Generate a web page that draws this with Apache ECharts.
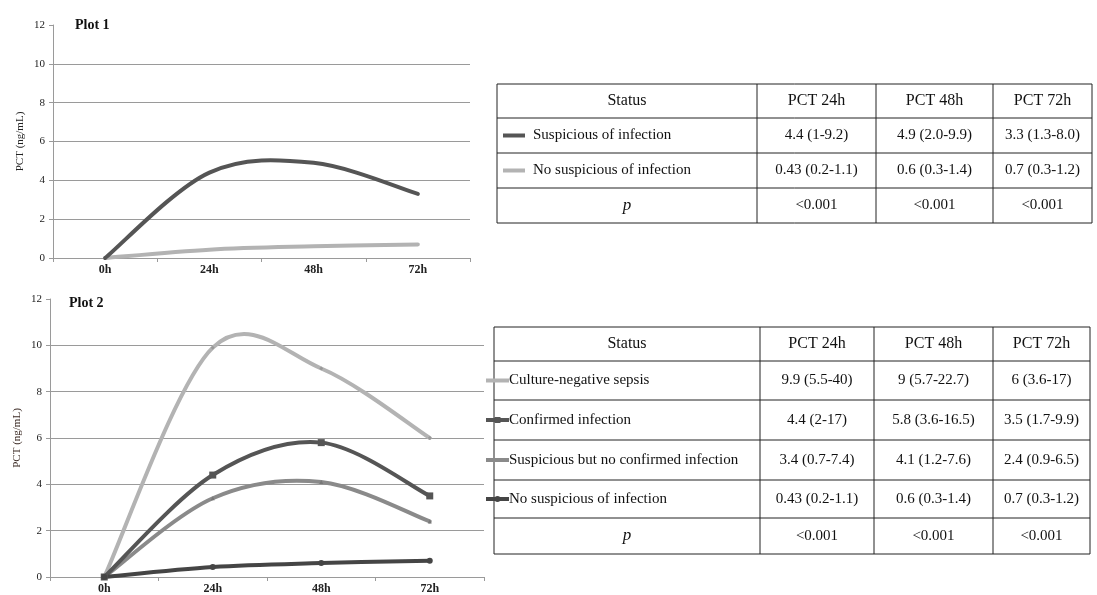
<!DOCTYPE html>
<html>
<head>
<meta charset="utf-8">
<script src="https://cdn.jsdelivr.net/npm/echarts@6/dist/echarts.min.js"></script>
<style>
  html, body { margin: 0; padding: 0; background: #fff; }
  #chart { width: 1097px; height: 595px; }
</style>
</head>
<body>
<div id="chart"></div>
<script>
// time points on the x axis
const hours = ['0h', '24h', '48h', '72h']
const yTicks = { min: 0, max: 12, interval: 2 }

// plot 1
const p1Suspicious = [0, 4.4, 4.9, 3.3]
const p1NoSuspicious = [0, 0.43, 0.6, 0.7]

// plot 2
const p2CultureNeg = [0, 9.9, 9, 6]
const p2Confirmed = [0, 4.4, 5.8, 3.5]
const p2SuspNoConfirmed = [0, 3.4, 4.1, 2.4]
const p2NoSuspicious = [0, 0.43, 0.6, 0.7]

// tables
const tableHeader = ['Status', 'PCT 24h', 'PCT 48h', 'PCT 72h']
const table1Rows = [
  ['Suspicious of infection', '4.4 (1-9.2)', '4.9 (2.0-9.9)', '3.3 (1.3-8.0)'],
  ['No suspicious of infection', '0.43 (0.2-1.1)', '0.6 (0.3-1.4)', '0.7 (0.3-1.2)'],
]
const table2Rows = [
  ['Culture-negative sepsis', '9.9 (5.5-40)', '9 (5.7-22.7)', '6 (3.6-17)'],
  ['Confirmed infection', '4.4 (2-17)', '5.8 (3.6-16.5)', '3.5 (1.7-9.9)'],
  ['Suspicious but no confirmed infection', '3.4 (0.7-7.4)', '4.1 (1.2-7.6)', '2.4 (0.9-6.5)'],
  ['No suspicious of infection', '0.43 (0.2-1.1)', '0.6 (0.3-1.4)', '0.7 (0.3-1.2)'],
]
const pRow = ['p', '<0.001', '<0.001', '<0.001']

const SERIF = "'Liberation Serif', 'Times New Roman', serif"
const C_DARK = '#555555'
const C_DARKEST = '#454545'
const C_MID = '#8a8a8a'
const C_LIGHT = '#b3b3b3'

function txt(text, x, y, font, align) {
  return {
    type: 'text',
    style: {
      text: text, x: x, y: y, font: font,
      align: align, textAlign: align,
      verticalAlign: 'middle', textVerticalAlign: 'middle',
      fill: '#111'
    },
    z: 10
  }
}

function hline(x1, x2, y, color, w) {
  return { type: 'line', shape: { x1: x1, y1: y, x2: x2, y2: y }, style: { stroke: color, lineWidth: w }, z: 9 }
}
function vline(x, y1, y2) {
  return { type: 'line', shape: { x1: x, y1: y1, x2: x, y2: y2 }, style: { stroke: '#222', lineWidth: 1 }, z: 9 }
}

// builds border lines and texts of one table
function makeTable(cols, rowsY, rows, textX, markers) {
  const els = []
  const left = cols[0], right = cols[cols.length - 1]
  rowsY.forEach(y => els.push(hline(left, right, y, '#222', 1)))
  cols.forEach(x => els.push(vline(x, rowsY[0], rowsY[rowsY.length - 1])))
  const allRows = [tableHeader].concat(rows).concat([pRow])
  allRows.forEach((row, r) => {
    const cy = (rowsY[r] + rowsY[r + 1]) / 2
    row.forEach((cell, c) => {
      const cx = (cols[c] + cols[c + 1]) / 2
      let font = '15px ' + SERIF
      if (r === 0) font = '16px ' + SERIF
      if (r === allRows.length - 1 && c === 0) font = 'italic 17px ' + SERIF
      if (c === 0 && r > 0 && r < allRows.length - 1) {
        els.push(txt(cell, textX, cy, font, 'left'))
      } else {
        els.push(txt(cell, cx, cy, font, 'center'))
      }
    })
  })
  markers.forEach((m, i) => {
    const cy = (rowsY[i + 1] + rowsY[i + 2]) / 2
    els.push(hline(m.x1, m.x2, cy, m.color, 4))
    if (m.symbol === 'rect') {
      els.push({ type: 'rect', shape: { x: (m.x1 + m.x2) / 2 - 3, y: cy - 3, width: 6, height: 6 }, style: { fill: m.color }, z: 11 })
    } else if (m.symbol === 'circle') {
      els.push({ type: 'circle', shape: { cx: (m.x1 + m.x2) / 2, cy: cy, r: 3 }, style: { fill: m.color }, z: 11 })
    }
  })
  return els
}

const table1 = makeTable(
  [497, 757, 876, 993, 1092],
  [84, 118, 153, 188, 223],
  table1Rows, 533,
  [
    { x1: 503, x2: 525, color: C_DARK },
    { x1: 503, x2: 525, color: C_LIGHT },
  ]
)
const table2 = makeTable(
  [494, 760, 874, 993, 1090],
  [327, 361, 400, 440, 480, 518, 554],
  table2Rows, 509,
  [
    { x1: 486, x2: 509, color: C_LIGHT },
    { x1: 486, x2: 509, color: C_DARK, symbol: 'rect' },
    { x1: 486, x2: 509, color: C_MID },
    { x1: 486, x2: 509, color: C_DARKEST, symbol: 'circle' },
  ]
)

function xAxisFor(gridIndex) {
  return {
    type: 'category',
    gridIndex: gridIndex,
    data: hours,
    boundaryGap: true,
    axisLine: { lineStyle: { color: '#9a9a9a', width: 1 } },
    axisTick: { show: true, length: 4, lineStyle: { color: '#9a9a9a' } },
    axisLabel: { fontFamily: SERIF, fontSize: 12, fontWeight: 'bold', color: '#222', margin: 6 }
  }
}
function yAxisFor(gridIndex, nameColor) {
  return {
    type: 'value',
    gridIndex: gridIndex,
    min: yTicks.min, max: yTicks.max, interval: yTicks.interval,
    name: 'PCT (ng/mL)',
    nameLocation: 'middle',
    nameGap: 27,
    nameTextStyle: { fontFamily: SERIF, fontSize: 11, color: nameColor },
    axisLine: { show: true, lineStyle: { color: '#9a9a9a', width: 1 } },
    axisTick: { show: true, length: 4, lineStyle: { color: '#9a9a9a' } },
    axisLabel: { fontFamily: SERIF, fontSize: 11, color: '#222', margin: 8 },
    splitLine: { show: true, showMaxLine: false, showMinLine: false, lineStyle: { color: '#9a9a9a', width: 1 } }
  }
}

// Excel-like smoothed curve (Catmull-Rom through the points, ends clamped)
function curveSeries(data, color, gi) {
  return {
    type: 'custom',
    xAxisIndex: gi, yAxisIndex: gi,
    data: data.map((v, i) => [i, v]),
    encode: { x: 0, y: 1 },
    z: 2,
    silent: true,
    renderItem: function (params, api) {
      if (params.dataIndex !== 0) return null
      const pts = data.map((v, i) => api.coord([i, v]))
      let d = 'M' + pts[0][0] + ' ' + pts[0][1]
      for (let i = 0; i < pts.length - 1; i++) {
        const p0 = pts[Math.max(i - 1, 0)]
        const p1 = pts[i]
        const p2 = pts[i + 1]
        const p3 = pts[Math.min(i + 2, pts.length - 1)]
        const c1x = p1[0] + (p2[0] - p0[0]) / 6
        const c1y = p1[1] + (p2[1] - p0[1]) / 6
        const c2x = p2[0] - (p3[0] - p1[0]) / 6
        const c2y = p2[1] - (p3[1] - p1[1]) / 6
        d += ' C' + c1x + ' ' + c1y + ' ' + c2x + ' ' + c2y + ' ' + p2[0] + ' ' + p2[1]
      }
      return {
        type: 'path',
        shape: { pathData: d },
        style: { stroke: color, lineWidth: 4, fill: null, lineCap: 'round', lineJoin: 'round' }
      }
    }
  }
}

function markerSeries(data, color, gi, symbol, size) {
  return {
    type: 'scatter',
    xAxisIndex: gi, yAxisIndex: gi,
    data: data,
    symbol: symbol,
    symbolSize: size,
    itemStyle: { color: color, opacity: 1 },
    z: 5,
    silent: true
  }
}

const chart = echarts.init(document.getElementById('chart'))
chart.setOption({
  backgroundColor: '#fff',
  animation: false,
  title: [
    { text: 'Plot 1', left: 70, top: 13, textStyle: { fontFamily: SERIF, fontSize: 14, fontWeight: 'bold', color: '#111' } },
    { text: 'Plot 2', left: 64, top: 291, textStyle: { fontFamily: SERIF, fontSize: 14, fontWeight: 'bold', color: '#111' } }
  ],
  grid: [
    { left: 53, top: 25, width: 417, height: 233 },
    { left: 50, top: 299, width: 434, height: 278 }
  ],
  xAxis: [xAxisFor(0), xAxisFor(1)],
  yAxis: [yAxisFor(0, '#222'), yAxisFor(1, '#3b2a24')],
  series: [
    curveSeries(p1NoSuspicious, C_LIGHT, 0),
    curveSeries(p1Suspicious, C_DARK, 0),
    curveSeries(p2CultureNeg, C_LIGHT, 1),
    curveSeries(p2SuspNoConfirmed, C_MID, 1),
    curveSeries(p2Confirmed, C_DARK, 1),
    curveSeries(p2NoSuspicious, C_DARKEST, 1),
    markerSeries(p2CultureNeg, '#999999', 1, 'diamond', 4),
    markerSeries(p2SuspNoConfirmed, '#777777', 1, 'triangle', 4),
    markerSeries(p2Confirmed, C_DARK, 1, 'rect', 7),
    markerSeries(p2NoSuspicious, C_DARKEST, 1, 'circle', 6)
  ],
  graphic: table1.concat(table2)
})
</script>
</body>
</html>
